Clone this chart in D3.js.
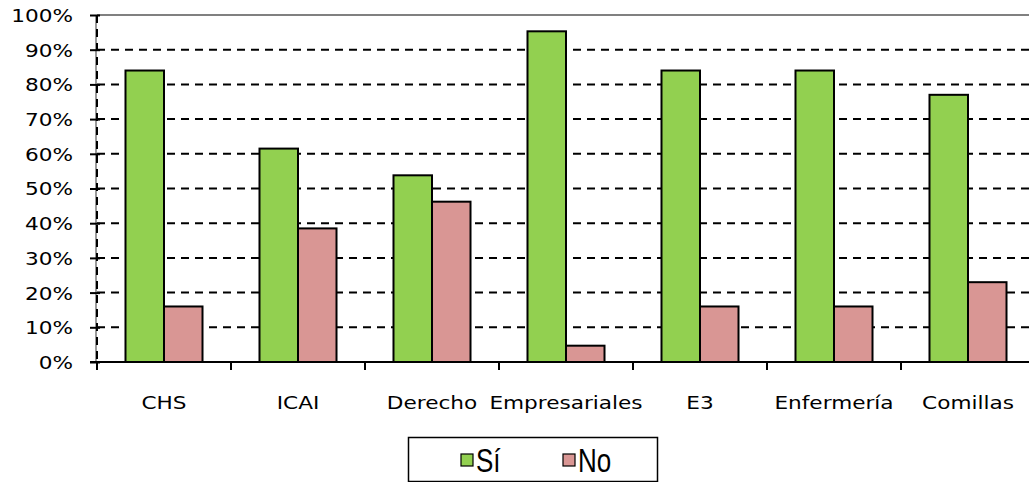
<!DOCTYPE html>
<html>
<head>
<meta charset="utf-8">
<script src="https://cdn.jsdelivr.net/npm/d3@7"></script>
<style>
  body { margin: 0; background: #fff; }
  svg { display: block; }
  text { font-family: "DejaVu Sans", Verdana, sans-serif; fill: #000; }
</style>
</head>
<body>
<div id="chart"></div>
<script>
// Data
let categories = ["CHS", "ICAI", "Derecho", "Empresariales", "E3", "Enfermería", "Comillas"];
let series = ["Sí", "No"];
let siValues = [84, 61.5, 53.8, 95.3, 84, 84, 77];
let noValues = [16, 38.5, 46.2, 4.7, 16, 16, 23];
let yTicks = [0, 10, 20, 30, 40, 50, 60, 70, 80, 90, 100];
let colors = ["#92d050", "#d99694"];

let width = 1029, height = 482;
let plotLeft = 97, plotTop = 15, plotBottom = 362, bandStep = 134;

let svg = d3.select("#chart")
    .append("svg")
    .attr("width", width)
    .attr("height", height);

// Scales
let x0 = d3.scaleBand()
    .domain(categories)
    .range([plotLeft, plotLeft + bandStep * categories.length])
    .paddingInner(0);

let x1 = d3.scaleBand()
    .domain(series)
    .range([0, x0.bandwidth()])
    .paddingInner(0)
    .paddingOuter(0.74);

let y = d3.scaleLinear()
    .domain([0, 100])
    .range([plotBottom, plotTop]);

let rows = categories.map((c, i) => ({ cat: c, values: [siValues[i], noValues[i]] }));

// Dashed gridlines
svg.append("g")
    .selectAll("line")
    .data(yTicks.filter(t => t > 0 && t < 100))
    .enter().append("line")
    .attr("x1", plotLeft)
    .attr("x2", width)
    .attr("y1", d => y(d))
    .attr("y2", d => y(d))
    .attr("stroke", "#000")
    .attr("stroke-width", 2)
    .attr("stroke-dasharray", "8,6");

// Plot area border (top) and left edge
svg.append("line")
    .attr("x1", plotLeft).attr("x2", width)
    .attr("y1", y(100)).attr("y2", y(100))
    .attr("stroke", "#808080").attr("stroke-width", 2);
svg.append("line")
    .attr("x1", plotLeft - 1).attr("x2", plotLeft - 1)
    .attr("y1", y(100)).attr("y2", plotBottom)
    .attr("stroke", "#9a9a9a").attr("stroke-width", 2);
svg.append("line")
    .attr("x1", plotLeft).attr("x2", plotLeft)
    .attr("y1", y(100)).attr("y2", plotBottom)
    .attr("stroke", "#000").attr("stroke-width", 2)
    .attr("stroke-dasharray", "8,6");

// Bars
svg.append("g")
    .selectAll("g")
    .data(rows)
    .enter().append("g")
    .attr("transform", d => `translate(${x0(d.cat)},0)`)
    .selectAll("rect")
    .data(d => d.values.map((v, i) => ({ key: series[i], value: v, i: i })))
    .enter().append("rect")
    .attr("x", d => x1(d.key))
    .attr("width", x1.bandwidth())
    .attr("y", d => y(d.value))
    .attr("height", d => y(0) - y(d.value))
    .attr("fill", d => colors[d.i])
    .attr("stroke", "#000")
    .attr("stroke-width", 2);

// Y axis
let yAxis = svg.append("g")
    .attr("transform", `translate(${plotLeft},0)`)
    .call(d3.axisLeft(y).tickValues(yTicks).tickFormat(d => d + "%").tickSizeOuter(0).tickSize(7));
yAxis.select(".domain").remove();
yAxis.selectAll(".tick line")
    .attr("x1", 3)
    .attr("stroke", "#000")
    .attr("stroke-width", 2);
yAxis.selectAll(".tick text")
    .attr("x", -20)
    .attr("dy", "0.36em")
    .attr("transform", "scale(1.2,1)")
    .style("font-size", "18px")
    .style("font-family", "'DejaVu Sans', Verdana, sans-serif");

// X axis line
svg.append("line")
    .attr("x1", plotLeft - 7).attr("x2", width)
    .attr("y1", plotBottom).attr("y2", plotBottom)
    .attr("stroke", "#000").attr("stroke-width", 2);

// Category boundary ticks
svg.append("g")
    .selectAll("line")
    .data(categories)
    .enter().append("line")
    .attr("x1", d => x0(d)).attr("x2", d => x0(d))
    .attr("y1", plotBottom).attr("y2", plotBottom + 8)
    .attr("stroke", "#000").attr("stroke-width", 2);

// Category labels
svg.append("g")
    .selectAll("text")
    .data(categories)
    .enter().append("text")
    .attr("transform", d => `translate(${x0(d) + x0.bandwidth() / 2},${plotBottom + 47}) scale(1.2,1)`)
    .attr("text-anchor", "middle")
    .style("font-size", "18px")
    .text(d => d);

// Legend
let legend = svg.append("g").attr("transform", "translate(408,437)");
legend.append("rect")
    .attr("x", 0.5).attr("y", 0.5)
    .attr("width", 249).attr("height", 44)
    .attr("fill", "#fff")
    .attr("stroke", "#000")
    .attr("stroke-width", 1.5);

let legendX = [53, 155];
let items = legend.selectAll(".item")
    .data(series)
    .enter().append("g")
    .attr("class", "item")
    .attr("transform", (d, i) => `translate(${legendX[i]},17)`);
items.append("rect")
    .attr("width", 12).attr("height", 12)
    .attr("fill", (d, i) => colors[i])
    .attr("stroke", "#000")
    .attr("stroke-width", 1.2);
items.append("text")
    .attr("transform", "translate(15,18) scale(1,1.3)")
    .style("font-family", "'Liberation Sans', Arial, sans-serif")
    .style("font-size", "26px")
    .text(d => d);
</script>
</body>
</html>
